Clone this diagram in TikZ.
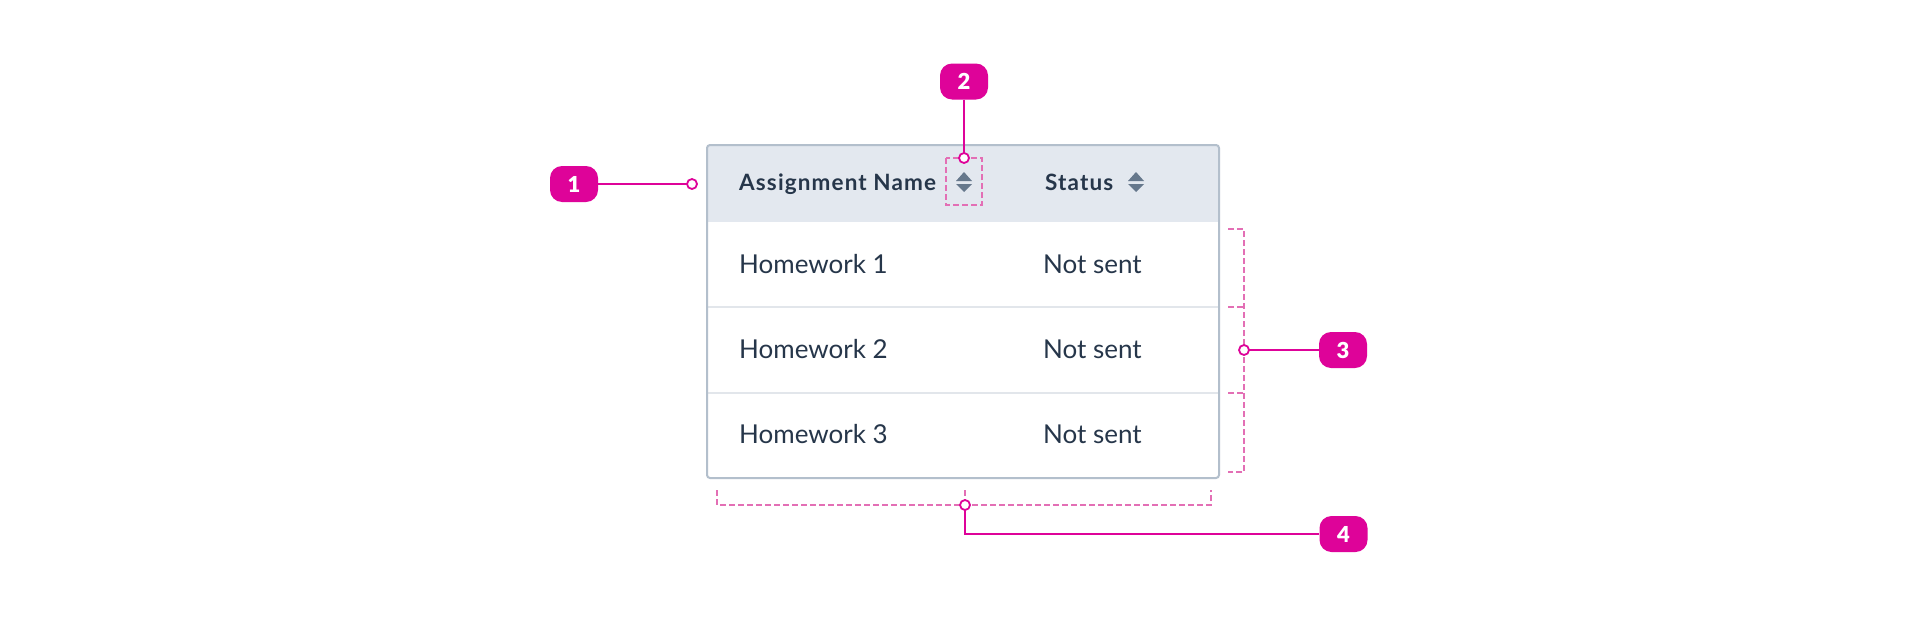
\documentclass[tikz,border=0pt]{standalone}
\usepackage{fontspec}
\setmainfont{Lato}
\IfFontExistsTF{Lato Black}{\newfontfamily\heavyfont{Lato Black}}{\newfontfamily\heavyfont{Lato}[UprightFont=*-Bold]}
\definecolor{mag}{HTML}{DE0399}
\definecolor{dpink}{HTML}{E36FB5}
\definecolor{hdr}{HTML}{E3E8EF}
\definecolor{tborder}{HTML}{B3BFCC}
\definecolor{txt}{HTML}{26364A}
\definecolor{icon}{HTML}{66788C}
\definecolor{sep}{HTML}{E2E6EB}
\begin{document}
\begin{tikzpicture}[x=1pt,y=-1pt,
 badge/.style={fill=mag, rounded corners=12pt, minimum width=48pt, minimum height=36pt, inner sep=0, text=white, font=\fontsize{22}{22}\selectfont\heavyfont},
 dot/.style={circle, draw=mag, fill=white, line width=1.8pt, minimum size=10pt, inner sep=0},
 conn/.style={draw=mag, line width=2pt},
 dsh/.style={draw=dpink, line width=1.5pt, dash pattern=on 6pt off 3pt},
 hd/.style={anchor=base west, inner sep=0, text=txt, font=\fontsize{22.5}{22.5}\selectfont\bfseries\addfontfeature{LetterSpace=5}},
 cell/.style={anchor=base west, inner sep=0, text=txt, font=\fontsize{26}{26}\selectfont},
 icn/.style={fill=icon},
]
\useasboundingbox[fill=white] (0,0) rectangle (1916,616);
% table
\begin{scope}
\path[clip, rounded corners=3pt] (707,145) rectangle (1219,478);
\fill[hdr] (707,145) rectangle (1219,222);
\draw[sep, line width=2pt] (707,307) -- (1219,307);
\draw[sep, line width=2pt] (707,393) -- (1219,393);
\end{scope}
\draw[tborder, line width=2pt, rounded corners=3pt] (707,145) rectangle (1219,478);
% sort icons
\fill[icn] (956,181) -- (964,172) -- (972,181) -- cycle;
\fill[icn] (956,184) -- (972,184) -- (964,192) -- cycle;
\fill[icn] (1128,181) -- (1136,172) -- (1144,181) -- cycle;
\fill[icn] (1128,184) -- (1144,184) -- (1136,192) -- cycle;
% texts
\node[hd] (h1) at (739,190) {Assignment Name};
\node[hd] (h2) at (1045,190) {Status};
\node[cell] (r1a) at (739,273) {Homework 1};
\node[cell] (r1b) at (1043,273) {Not sent};
\node[cell] (r2a) at (739,358) {Homework 2};
\node[cell] (r2b) at (1043,358) {Not sent};
\node[cell] (r3a) at (739,443) {Homework 3};
\node[cell] (r3b) at (1043,443) {Not sent};
% dashed guides
\draw[dsh] (946,158) rectangle (982,205);
\draw[dsh] (1228,229) -- (1244,229) -- (1244,472) -- (1228,472);
\draw[dsh] (1228,307) -- (1244,307);
\draw[dsh] (1228,393) -- (1244,393);
\draw[dsh] (717,490) -- (717,505) -- (1211,505) -- (1211,490);
\draw[dsh] (965,490) -- (965,505);
% badges
\node[badge] (b1) at (574,184) {1};
\node[badge] (b2) at (964,81.5) {2};
\node[badge] (b3) at (1343,350) {3};
\node[badge] (b4) at (1343.5,534) {4};
% connectors
\coordinate (c1p) at (692,184);
\coordinate (c2p) at (964,158);
\coordinate (c3p) at (1244,350);
\coordinate (c4p) at (965,505);
\draw[conn] (b1) -- (c1p);
\draw[conn] (b2) -- (c2p);
\draw[conn] (b3) -- (c3p);
\draw[conn] (c4p) |- (b4);
\node[dot] (c1) at (c1p) {};
\node[dot] (c2) at (c2p) {};
\node[dot] (c3) at (c3p) {};
\node[dot] (c4) at (c4p) {};
\end{tikzpicture}
\end{document}
